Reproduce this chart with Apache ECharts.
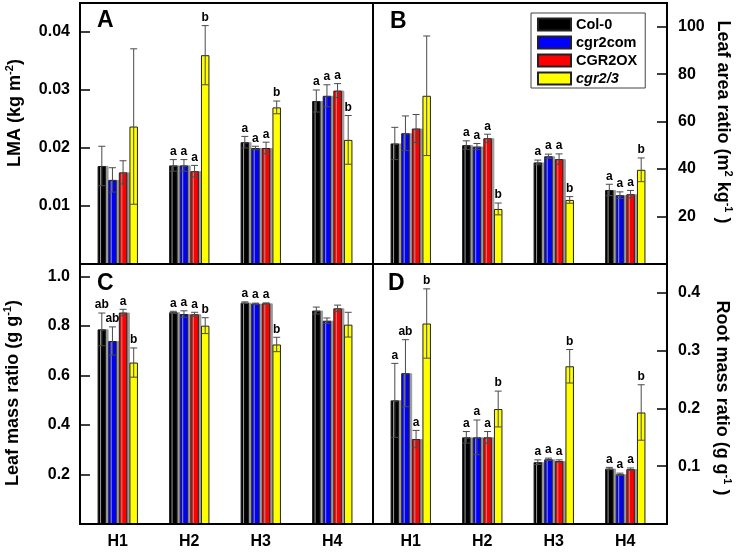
<!DOCTYPE html>
<html>
<head>
<meta charset="utf-8">
<script src="https://cdn.jsdelivr.net/npm/echarts@6/dist/echarts.min.js"></script>
<style>html,body{margin:0;padding:0;background:#fff;}#c{width:740px;height:552px;}</style>
</head>
<body>
<div id="c"></div>
<script>
const FONT = 'Liberation Sans, Arial, Helvetica, sans-serif';
const categories = ['H1', 'H2', 'H3', 'H4'];
const seriesNames = ['Col-0', 'cgr2com', 'CGR2OX', 'cgr2/3'];
const seriesColors = ['#000000', '#0000ff', '#ff0000', '#ffff00'];

// Panel A: LMA (kg m-2)
const lmaValues = [
  [0.0169, 0.0170, 0.0210, 0.0281],
  [0.0145, 0.0170, 0.0200, 0.0290],
  [0.0158, 0.0160, 0.0200, 0.0299],
  [0.0237, 0.0360, 0.0270, 0.0214]
];
const lmaErrors = [
  [0.0034, 0.0010, 0.0010, 0.0019],
  [0.0021, 0.0010, 0.0003, 0.0019],
  [0.0020, 0.0010, 0.0010, 0.0012],
  [0.0134, 0.0051, 0.0011, 0.0042]
];
const lmaLetters = [
  ['', 'a', 'a', 'a'],
  ['', 'a', 'a', 'a'],
  ['', 'a', 'a', 'a'],
  ['', 'b', 'b', 'b']
];
const lmaTicks = [0.01, 0.02, 0.03, 0.04];

// Panel B: Leaf area ratio (m2 kg-1)
const larValues = [
  [50.8, 50.1, 42.8, 31.2],
  [55.1, 49.5, 45.4, 29.0],
  [57.1, 53.0, 44.2, 29.4],
  [70.9, 23.2, 27.0, 39.7]
];
const larErrors = [
  [6.8, 1.8, 1.0, 2.4],
  [7.3, 1.3, 0.9, 1.4],
  [5.9, 1.7, 2.2, 1.6],
  [25.2, 2.5, 1.4, 5.0]
];
const larLetters = [
  ['', 'a', 'a', 'a'],
  ['', 'a', 'a', 'a'],
  ['', 'a', 'a', 'a'],
  ['', 'b', 'b', 'b']
];
const larTicks = [20, 40, 60, 80, 100];

// Panel C: Leaf mass ratio (g g-1)
const lmrValues = [
  [0.786, 0.855, 0.894, 0.862],
  [0.739, 0.848, 0.890, 0.821],
  [0.854, 0.847, 0.891, 0.871],
  [0.652, 0.801, 0.725, 0.805]
];
const lmrErrors = [
  [0.066, 0.004, 0.003, 0.014],
  [0.057, 0.013, 0.002, 0.011],
  [0.013, 0.008, 0.002, 0.013],
  [0.059, 0.032, 0.029, 0.050]
];
const lmrLetters = [
  ['ab', 'a', 'a', ''],
  ['ab', 'a', 'a', ''],
  ['a', 'a', 'a', ''],
  ['b', 'b', 'b', '']
];
const lmrTicks = [0.2, 0.4, 0.6, 0.8, 1.0];

// Panel D: Root mass ratio (g g-1)
const rmrValues = [
  [0.214, 0.150, 0.107, 0.096],
  [0.261, 0.150, 0.112, 0.086],
  [0.147, 0.150, 0.109, 0.095],
  [0.347, 0.199, 0.273, 0.193]
];
const rmrErrors = [
  [0.064, 0.010, 0.004, 0.002],
  [0.058, 0.030, 0.002, 0.002],
  [0.015, 0.010, 0.002, 0.002],
  [0.060, 0.031, 0.029, 0.048]
];
const rmrLetters = [
  ['a', 'a', 'a', 'a'],
  ['ab', 'a', 'a', 'a'],
  ['a', 'a', 'a', 'a'],
  ['b', 'b', 'b', 'b']
];
const rmrTicks = [0.1, 0.2, 0.3, 0.4];

const BAR_W = 8.5;
const BAR_GAP = 0.25;
const STEP = BAR_W * (1 + BAR_GAP);

const panels = [
  { letter: 'A', grid: { left: 82, top: 3, width: 286, height: 261 }, pos: 'left', offset: 2, max: 0.045, interval: 0.01, dec: 2,
    ticks: lmaTicks, values: lmaValues, errors: lmaErrors, letters: lmaLetters, showX: false, lx: 97, ly: 21 },
  { letter: 'B', grid: { left: 375, top: 3, width: 286, height: 261 }, pos: 'right', offset: 6, max: 110, interval: 10, dec: 0,
    ticks: larTicks, values: larValues, errors: larErrors, letters: larLetters, showX: false, lx: 390, ly: 22 },
  { letter: 'C', grid: { left: 82, top: 264, width: 286, height: 260 }, pos: 'left', offset: 2, max: 1.05, interval: 0.05, dec: 1,
    ticks: lmrTicks, values: lmrValues, errors: lmrErrors, letters: lmrLetters, showX: true, lx: 97, ly: 284 },
  { letter: 'D', grid: { left: 375, top: 264, width: 286, height: 260 }, pos: 'right', offset: 6, max: 0.45, interval: 0.05, dec: 1,
    ticks: rmrTicks, values: rmrValues, errors: rmrErrors, letters: rmrLetters, showX: true, lx: 388, ly: 284 }
];

const grids = [], xAxes = [], yAxes = [], series = [];
panels.forEach((p, pi) => {
  grids.push(Object.assign({ containLabel: false }, p.grid));
  xAxes.push({
    type: 'category', gridIndex: pi, data: categories,
    axisLine: { show: false }, axisTick: { show: false },
    axisLabel: { show: p.showX, color: '#000', fontSize: 16, fontWeight: 'bold', fontFamily: FONT, margin: 10 }
  });
  yAxes.push({
    type: 'value', gridIndex: pi, min: 0, max: p.max, interval: p.interval,
    position: p.pos, offset: p.offset,
    axisLine: { show: false },
    splitLine: { show: false },
    axisTick: {
      show: true, inside: true, length: 10, lineStyle: { color: '#000', width: 1.5 },
      customValues: p.ticks
    },
    axisLabel: {
      color: '#000', fontSize: 16, fontWeight: 'bold', fontFamily: FONT,
      margin: p.pos === 'left' ? 10 : 11,
      customValues: p.ticks,
      formatter: v => v.toFixed(p.dec)
    }
  });
  seriesNames.forEach((name, si) => {
    const isz = si < 3;
    series.push({
      type: 'bar', name: name, xAxisIndex: pi, yAxisIndex: pi,
      data: p.values[si], barWidth: BAR_W, barGap: (BAR_GAP * 100) + '%',
      itemStyle: {
        color: seriesColors[si], borderColor: '#222', borderWidth: 1,
        shadowColor: isz ? '#9a9a9a' : 'rgba(0,0,0,0)', shadowOffsetX: isz ? 2.5 : 0, shadowBlur: 0
      },
      emphasis: { disabled: true }, silent: true, z: 2
    });
    series.push({
      type: 'custom', name: 'err-' + p.letter + si, xAxisIndex: pi, yAxisIndex: pi, z: 5, silent: true,
      data: categories.map((c, k) => [k, p.values[si][k], p.errors[si][k]]),
      encode: { x: 0, y: 1 },
      renderItem: (params, api) => {
        const k = api.value(0), v = api.value(1), e = api.value(2);
        const c = api.coord([k, v]);
        const x = c[0] + (si - 1.5) * STEP;
        const top = api.coord([k, v + e])[1];
        const bot = api.coord([k, v - e])[1];
        const ls = { stroke: '#4a4a4a', lineWidth: 1 };
        const children = [];
        if (e > 0) {
          children.push({ type: 'line', shape: { x1: x, y1: top, x2: x, y2: bot }, style: ls });
          children.push({ type: 'line', shape: { x1: x - 3.5, y1: top, x2: x + 3.5, y2: top }, style: ls });
          children.push({ type: 'line', shape: { x1: x - 3.5, y1: bot, x2: x + 3.5, y2: bot }, style: ls });
        }
        const lt = p.letters[si][params.dataIndex];
        if (lt) {
          children.push({ type: 'text', x: x, y: top - 2,
            style: { text: lt, fill: '#000', font: 'bold 12px ' + FONT, align: 'center', verticalAlign: 'bottom' } });
        }
        return { type: 'group', children: children };
      }
    });
  });
});

const titleRich = {
  m: { fontSize: 18, fontWeight: 'bold', fontFamily: FONT, lineHeight: 22, fill: '#000' },
  s: { fontSize: 11, fontWeight: 'bold', fontFamily: FONT, lineHeight: 11, verticalAlign: 'top', fill: '#000' }
};
function titleText(x, y, rot, text) {
  return {
    type: 'text', x: x, y: y, rotation: rot, z: 100,
    style: { text: text, rich: titleRich, align: 'center', verticalAlign: 'middle', fill: '#000' }
  };
}

const graphic = [
  { type: 'rect', z: 100, shape: { x: 80, y: 3, width: 587, height: 521 }, style: { fill: null, stroke: '#000', lineWidth: 2 } },
  { type: 'line', z: 100, shape: { x1: 373, y1: 3, x2: 373, y2: 524 }, style: { stroke: '#000', lineWidth: 2 } },
  { type: 'line', z: 100, shape: { x1: 80, y1: 264, x2: 667, y2: 264 }, style: { stroke: '#000', lineWidth: 2 } },
  titleText(15, 113, Math.PI / 2, '{m|LMA (kg m}{s|-2}{m|)}'),
  titleText(13, 393, Math.PI / 2, '{m|Leaf mass ratio (g g}{s|-1}{m|)}'),
  titleText(723, 122, -Math.PI / 2, '{m|Leaf area ratio (m}{s|2}{m| kg}{s|-1}{m| )}'),
  titleText(722, 398, -Math.PI / 2, '{m|Root mass ratio (g g}{s|-1}{m| )}')
];
panels.forEach(p => {
  graphic.push({ type: 'text', x: p.lx, y: p.ly, z: 100,
    style: { text: p.letter, font: 'bold 23px ' + FONT, fill: '#000', align: 'left', verticalAlign: 'middle' } });
});

const chart = echarts.init(document.getElementById('c'), null, { renderer: 'canvas' });
chart.setOption({
  animation: false,
  backgroundColor: '#fff',
  grid: grids,
  xAxis: xAxes,
  yAxis: yAxes,
  legend: {
    data: seriesNames, orient: 'vertical', left: 531, top: 13,
    padding: [4, 8, 2, 6], itemGap: 3, itemWidth: 33, itemHeight: 12, icon: 'rect',
    borderColor: '#444', borderWidth: 1, selectedMode: false,
    formatter: name => name === 'cgr2/3' ? '{it|' + name + '}' : name,
    textStyle: {
      color: '#000', fontSize: 14.5, fontWeight: 'bold', fontFamily: FONT,
      rich: { it: { color: '#000', fontSize: 14.5, fontWeight: 'bold', fontStyle: 'italic', fontFamily: FONT } }
    }
  },
  graphic: graphic,
  series: series
});
</script>
</body>
</html>
